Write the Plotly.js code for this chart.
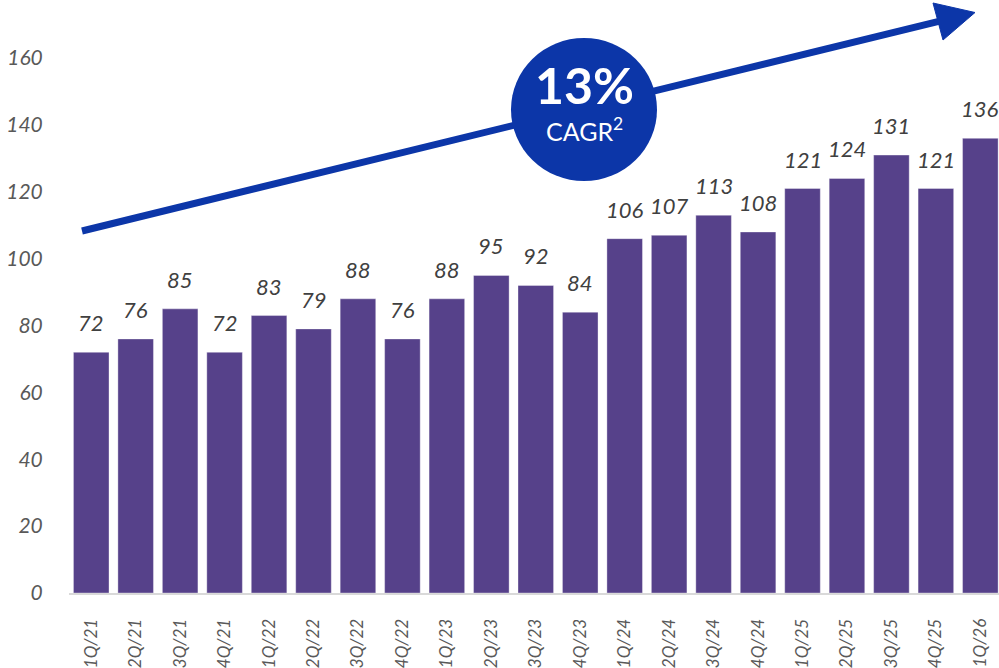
<!DOCTYPE html>
<html>
<head>
<meta charset="utf-8">
<script src="https://cdn.plot.ly/plotly-3.0.1.min.js"></script>
<style>html,body{margin:0;padding:0;background:#fff;}#chart{width:999px;height:668px;}</style>
</head>
<body>
<div id="chart"></div>
<script>
const categories = ["1Q/21","2Q/21","3Q/21","4Q/21","1Q/22","2Q/22","3Q/22","4Q/22","1Q/23","2Q/23","3Q/23","4Q/23","1Q/24","2Q/24","3Q/24","4Q/24","1Q/25","2Q/25","3Q/25","4Q/25","1Q/26"];
const values = [72,76,85,72,83,79,88,76,88,95,92,84,106,107,113,108,121,124,131,121,136];
const yTicks = [0,20,40,60,80,100,120,140,160];
const cagrText = "13%";
const cagrLabel = "CAGR<sup>2</sup>";

const FONT = "Lato, 'Open Sans', sans-serif";
const BLUE = "#0c36a8";

const trace = {
  type: "bar",
  x: categories,
  y: values,
  marker: {color: "#56418a", line: {color: "rgba(255,255,255,0.35)", width: 1}},
  width: 0.8,
  hoverinfo: "skip"
};

const labelAnns = categories.map((c, i) => ({
  x: c, y: values[i], xref: "x", yref: "y",
  text: "<i>" + values[i] + "</i>",
  showarrow: false, yanchor: "bottom", yshift: 14,
  font: {family: FONT, size: 22, color: "#404040"}
}));

const px = p => (p - 69) / 930;
const py = p => (593 - p) / 585;

const layout = {
  width: 999, height: 668,
  margin: {l: 69, r: 0, t: 8, b: 75},
  paper_bgcolor: "#fff", plot_bgcolor: "#fff",
  showlegend: false,
  xaxis: {
    type: "category",
    range: [-0.5, 20.42],
    showline: true, linecolor: "#d9d9d9", linewidth: 2,
    showgrid: false, zeroline: false,
    ticks: "outside", ticklen: 17, tickcolor: "rgba(0,0,0,0)",
    tickangle: -90,
    tickfont: {family: FONT, size: 17, color: "#595959", style: "italic"}
  },
  yaxis: {
    range: [0, 175],
    tickvals: yTicks,
    showgrid: false, zeroline: false, showline: false,
    ticks: "outside", ticklen: 21, tickcolor: "rgba(0,0,0,0)",
    tickfont: {family: FONT, size: 21, color: "#595959", style: "italic"}
  },
  shapes: [
    {type: "line", xref: "paper", yref: "paper",
     x0: px(82), y0: py(231), x1: px(950), y1: py(18.6),
     line: {color: BLUE, width: 7}},
    {type: "path", xref: "paper", yref: "paper",
     path: `M ${px(975)} ${py(12.5)} L ${px(933)} ${py(3)} L ${px(943)} ${py(40)} Z`,
     fillcolor: BLUE, line: {color: BLUE, width: 1}},
    {type: "circle", xref: "paper", yref: "paper",
     x0: px(511), x1: px(657), y0: py(181), y1: py(38),
     fillcolor: BLUE, line: {width: 0}}
  ],
  annotations: labelAnns.concat([
    {xref: "paper", yref: "paper", x: px(584), y: py(85), text: "<b>" + cagrText + "</b>",
     showarrow: false, xanchor: "center", yanchor: "middle",
     font: {family: FONT, size: 50, color: "#fff"}},
    {xref: "paper", yref: "paper", x: px(584), y: py(129), text: cagrLabel,
     showarrow: false, xanchor: "center", yanchor: "middle",
     font: {family: FONT, size: 25, color: "#fff"}}
  ])
};

Plotly.newPlot("chart", [trace], layout, {displayModeBar: false, staticPlot: true});
</script>
</body>
</html>
